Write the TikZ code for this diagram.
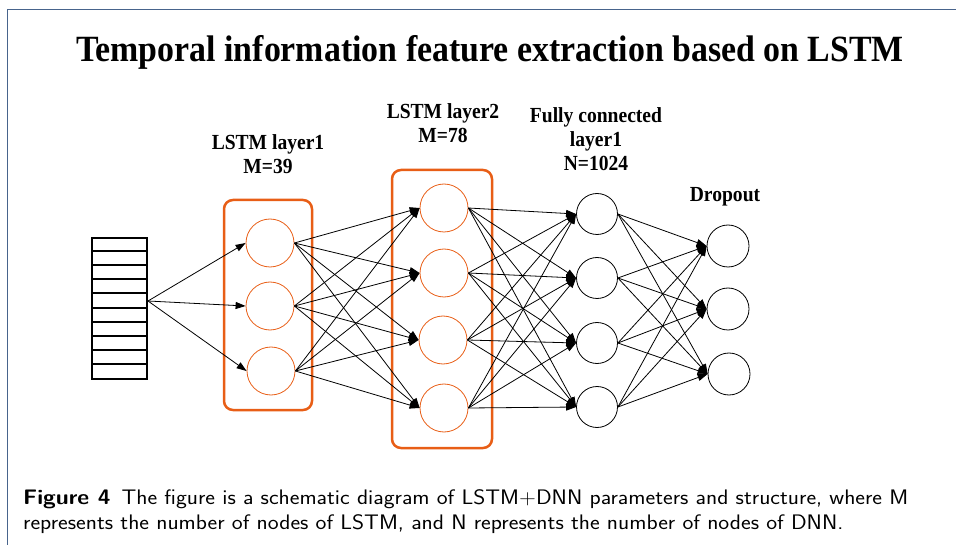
\documentclass[tikz,border=0pt]{standalone}
\usepackage{fontspec}
\usepackage{graphicx}
\setmainfont{Liberation Serif}
\usetikzlibrary{arrows.meta,calc}
\definecolor{lorange}{RGB}{232,94,22}
\definecolor{frameblue}{RGB}{72,100,140}
\newcommand{\mylab}[1]{\scalebox{0.91}[1]{\begin{tabular}{@{}c@{}}#1\end{tabular}}}
\tikzset{
  arr/.style={-{Triangle[length=10pt,width=7pt]}, line width=0.8pt, black},
  lcirc/.style={circle, draw=lorange, line width=0.8pt, minimum size=48pt, inner sep=0pt},
  bcirc/.style={circle, draw=black, line width=0.8pt, minimum size=41pt, inner sep=0pt},
  lbox/.style={draw=lorange, line width=2.5pt, rounded corners=9pt, inner sep=0pt},
  lab/.style={font=\fontsize{21.5}{24}\selectfont\bfseries, inner sep=0pt},
}
\begin{document}
\begin{tikzpicture}[x=1pt,y=-1pt]
\useasboundingbox (0,0) rectangle (956,545);
\draw[frameblue, line width=1.5pt] (7.5,545) -- (7.5,9.5) -- (956,9.5);

\node[font=\fontsize{37}{40}\selectfont\bfseries, inner sep=0pt, anchor=base] (title) at (490,62)
  {\scalebox{0.915}[1]{Temporal information feature extraction based on LSTM}};

% input stack
\node[draw, line width=2pt, minimum width=55pt, minimum height=141pt, inner sep=0pt] (stack) at (119.5,308.5) {};
\foreach \k in {14,28,42,56,71,85,99,113,127} {
  \draw[line width=2pt] ($(stack.north west)+(0,\k)$) -- ($(stack.north east)+(0,\k)$);
}
\coordinate (src) at (148,301);

% boxes
\node[lbox, minimum width=88pt, minimum height=210pt] (box1) at (268,305) {};
\node[lbox, minimum width=100pt, minimum height=278pt] (box2) at (442,309) {};

% LSTM1
\node[lcirc] (a1) at (270,243) {};
\node[lcirc] (a2) at (270,306) {};
\node[lcirc] (a3) at (271,371) {};
% LSTM2
\node[lcirc] (b1) at (444,208) {};
\node[lcirc] (b2) at (444,273) {};
\node[lcirc] (b3) at (443,340) {};
\node[lcirc] (b4) at (444,408) {};
% FC
\node[bcirc] (c1) at (597,214) {};
\node[bcirc] (c2) at (597,278) {};
\node[bcirc] (c3) at (597,343) {};
\node[bcirc] (c4) at (597,407) {};
% Dropout
\node[bcirc, minimum size=42pt] (d1) at (728,246) {};
\node[bcirc, minimum size=42pt] (d2) at (728,309) {};
\node[bcirc, minimum size=42pt] (d3) at (729,374) {};

% labels
\node[lab] (l1) at (268,157) {\mylab{LSTM layer1\\M=39}};
\node[lab] (l2) at (443,126) {\mylab{LSTM layer2\\M=78}};
\node[lab] (l3) at (596,142) {\mylab{Fully connected\\layer1\\N=1024}};
\node[lab] (l4) at (725,197) {\mylab{Dropout}};

% connectors
\foreach \j in {1,2,3} \draw[arr] (src) -- (a\j.west);
\foreach \i in {1,2,3} \foreach \j in {1,2,3,4} \draw[arr] (a\i.east) -- (b\j.west);
\foreach \i in {1,2,3,4} \foreach \j in {1,2,3,4} \draw[arr] (b\i.east) -- (c\j.west);
\foreach \i in {1,2,3,4} \foreach \j in {1,2,3} \draw[arr] (c\i.east) -- (d\j.west);

% caption
\node[anchor=west, inner sep=0pt, font=\sffamily\fontsize{21}{25}\selectfont] (cap) at (23,511.5)
  {\scalebox{1.1}[1]{\begin{tabular}{@{}l@{}}\textbf{Figure 4}\, The figure is a schematic diagram of LSTM+DNN parameters and structure, where M\\
   represents the number of nodes of LSTM, and N represents the number of nodes of DNN.\end{tabular}}};
\end{tikzpicture}
\end{document}
